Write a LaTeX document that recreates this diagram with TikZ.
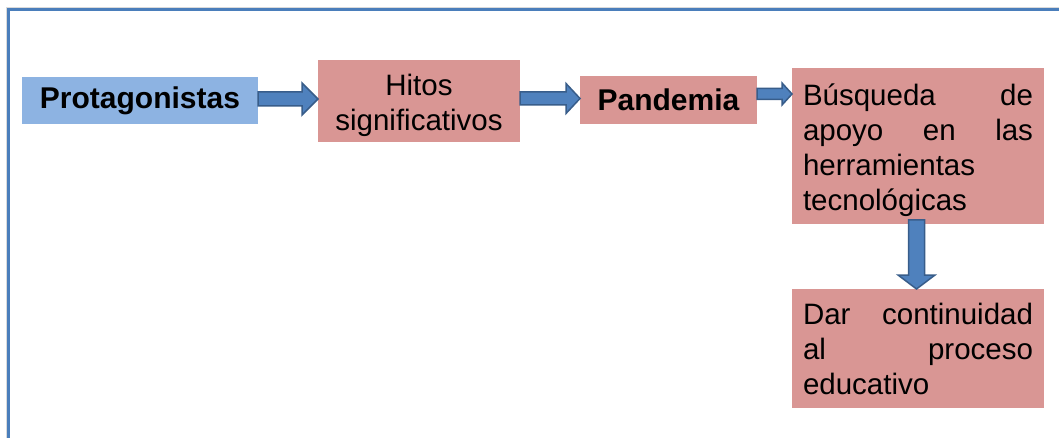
\documentclass[tikz,border=0pt]{standalone}
\usepackage{fontspec}
\setmainfont{Liberation Sans}
\usetikzlibrary{calc}

\definecolor{boxblue}{HTML}{8DB3E2}
\definecolor{boxpink}{HTML}{D99694}
\definecolor{arrowfill}{HTML}{4F81BD}
\definecolor{arrowline}{HTML}{385D8A}
\definecolor{framecol}{HTML}{4A7EBB}
\definecolor{frameshade}{HTML}{DADADA}

\tikzset{
  box/.style={rectangle, inner sep=0pt, outer sep=0pt, draw=none},
  bluebox/.style={box, fill=boxblue},
  pinkbox/.style={box, fill=boxpink},
  boldtext/.style={font=\fontsize{30}{35}\selectfont\bfseries},
  plaintext/.style={font=\fontsize{29.5}{35}\selectfont},
  blockarrow/.style={fill=arrowfill, draw=arrowline, line width=1.5pt, line join=miter},
}

% horizontal block arrow: start, end, shaft half-height, head half-height, head length
\newcommand\harrowblk[5]{%
  \draw[blockarrow] ($(#1)+(0,-#3)$) -- ($(#2)+(-#5,-#3)$) -- ($(#2)+(-#5,-#4)$)
    -- (#2) -- ($(#2)+(-#5,#4)$) -- ($(#2)+(-#5,#3)$) -- ($(#1)+(0,#3)$) -- cycle;}
% vertical (downward) block arrow: start, end, shaft half-width, head half-width, head length
\newcommand\varrowblk[5]{%
  \draw[blockarrow] ($(#1)+(-#3,0)$) -- ($(#2)+(-#3,-#5)$) -- ($(#2)+(-#4,-#5)$)
    -- (#2) -- ($(#2)+(#4,-#5)$) -- ($(#2)+(#3,-#5)$) -- ($(#1)+(#3,0)$) -- cycle;}

\begin{document}
\begin{tikzpicture}[x=1pt, y=-1pt]
  \useasboundingbox (0,0) rectangle (1059,438);
  \fill[white] (0,0) rectangle (1059,438);

  % frame
  \draw[frameshade, line width=1pt] (6,440) -- (6,7.5) -- (1062,7.5);
  \draw[framecol, line width=3pt] (8.5,440) -- (8.5,10) -- (1062,10);

  % boxes
  \node[bluebox, boldtext, minimum width=236pt, minimum height=47pt] (proto) at (140,100.5) {\raisebox{-6pt}{Protagonistas}};
  \node[pinkbox, plaintext, align=center, minimum width=202pt, minimum height=82pt] (hitos) at (419,101)
    {\rule{0pt}{31pt}Hitos\\significativos};
  \node[pinkbox, boldtext, minimum width=177pt, minimum height=48pt] (pand) at (668.5,100) {\raisebox{-2pt}{Pandemia}};
  \node[pinkbox, plaintext, text width=230pt, inner xsep=11pt, align=left, minimum height=156pt] (busq) at (918,146)
    {\rule{0pt}{31pt}Búsqueda\hfill de\\apoyo\hfill en\hfill las\\herramientas\\tecnológicas};
  \node[pinkbox, plaintext, text width=230pt, inner xsep=11pt, align=left, minimum height=119pt] (dar) at (918,348.5)
    {\rule{0pt}{23pt}Dar\hfill continuidad\\al\hfill proceso\\educativo};

  % connectors
  \coordinate (a1s) at ($(proto.east)+(0,-1.5)$);
  \coordinate (a1e) at (hitos.west |- a1s);
  \harrowblk{a1s}{a1e}{7}{16}{16}

  \coordinate (a2s) at ($(hitos.east)+(0,-2.5)$);
  \coordinate (a2e) at (pand.west |- a2s);
  \harrowblk{a2s}{a2e}{6.5}{15}{14}

  \coordinate (a3s) at ($(pand.east)+(0,-6)$);
  \coordinate (a3e) at (busq.west |- a3s);
  \harrowblk{a3s}{a3e}{5.5}{11}{10}

  \coordinate (a4s) at ($(busq.south)+(-1.5,-4)$);
  \coordinate (a4e) at (dar.north -| a4s);
  \varrowblk{a4s}{a4e}{8}{18.5}{14}
\end{tikzpicture}
\end{document}
